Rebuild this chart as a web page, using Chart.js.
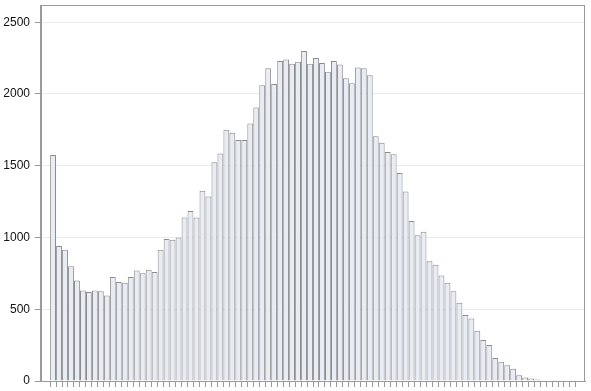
<!DOCTYPE html>
<html>
<head>
<meta charset="utf-8">
<script src="https://cdn.jsdelivr.net/npm/chart.js@4/dist/chart.umd.min.js"></script>
<style>
  html, body { margin: 0; padding: 0; background: #fff; }
  #wrap { width: 591px; height: 391px; }
</style>
</head>
<body>
<div id="wrap"><canvas id="histChart"></canvas></div>
<script>
// bin numbers (one bar each) and their counts
const bins = [
    1, 2, 3, 4, 5, 6, 7, 8, 9, 10, 11, 12, 13, 14, 15, 16, 17, 18, 19, 20, 21, 22,
    23, 24, 25, 26, 27, 28, 29, 30, 31, 32, 33, 34, 35, 36, 37, 38, 39, 40, 41, 42, 43, 44,
    45, 46, 47, 48, 49, 50, 51, 52, 53, 54, 55, 56, 57, 58, 59, 60, 61, 62, 63, 64, 65, 66,
    67, 68, 69, 70, 71, 72, 73, 74, 75, 76, 77, 78, 79, 80, 81, 82, 83, 84, 85, 86, 87, 88
];
const counts = [
    1575, 940, 915, 800, 700, 630, 620, 630, 625, 595, 725, 690, 685, 725, 770, 750, 775, 760, 915, 990, 985, 1000,
    1140, 1185, 1140, 1325, 1285, 1525, 1585, 1750, 1730, 1680, 1680, 1795, 1905, 2060, 2180, 2070, 2230, 2240, 2210, 2225,
    2300, 2210, 2250, 2215, 2155, 2230, 2205, 2110, 2075, 2185, 2180, 2130, 1705, 1660, 1595, 1580, 1450, 1320, 1115, 1015,
    1040, 835, 810, 735, 685, 625, 545, 460, 435, 350, 285, 250, 160, 135, 110, 85, 40, 25, 17, 10, 5, 3, 5, 2, 1, 1
];
const yTicks = [0, 500, 1000, 1500, 2000, 2500];

// frame round the plot area (top and right sides)
const frame = {
    id: 'frame',
    afterDraw(chart) {
        const a = chart.chartArea;
        const ctx = chart.ctx;
        ctx.save();
        ctx.strokeStyle = '#9a9a9a';
        ctx.lineWidth = 1;
        ctx.strokeRect(Math.round(a.left) - 0.5, Math.round(a.top) + 0.5, Math.round(a.right - a.left), Math.round(a.bottom - a.top));
        ctx.restore();
    }
};

new Chart(document.getElementById('histChart'), {
    type: 'bar',
    data: {
        datasets: [{
            data: counts.map((c, i) => ({ x: bins[i], y: c })),
            backgroundColor: '#e8ecf4',
            borderColor: '#8c8c8c',
            borderWidth: 1,
            categoryPercentage: 1.0,
            barPercentage: 0.98
        }]
    },
    options: {
        responsive: true,
        maintainAspectRatio: false,
        animation: false,
        layout: { padding: { top: 5, right: 6, left: 0, bottom: 0 } },
        plugins: { legend: { display: false }, tooltip: { enabled: false } },
        scales: {
            x: {
                type: 'linear',
                min: bins[0] - 1.5,
                max: bins[bins.length - 1] + 1.5,
                grid: { display: true, drawOnChartArea: false, drawTicks: true, tickLength: 6, tickColor: '#9a9a9a' },
                border: { color: '#9a9a9a' },
                ticks: { stepSize: 1, maxTicksLimit: 500, autoSkip: false, maxRotation: 0, callback: () => '' },
                afterBuildTicks: (scale) => {
                    scale.ticks = bins.map(b => ({ value: b }));
                },
                afterFit: (scale) => {
                    scale.height = 10;
                    scale.paddingLeft = 0;
                    scale.paddingRight = 0;
                }
            },
            y: {
                min: 0,
                max: 2620,
                grid: { color: '#ebebeb', tickColor: '#9a9a9a', tickLength: 6 },
                border: { color: '#9a9a9a' },
                ticks: {
                    stepSize: 500,
                    includeBounds: false,
                    padding: 5,
                    color: '#111',
                    font: { family: 'Liberation Sans, Arial, sans-serif', size: 12 },
                    callback: (v) => String(v)
                },
                afterBuildTicks: (scale) => {
                    scale.ticks = yTicks.map(v => ({ value: v }));
                },
                afterFit: (scale) => {
                    scale.width = 41;
                    scale.paddingTop = 0;
                    scale.paddingBottom = 0;
                }
            }
        }
    },
    plugins: [frame]
});
</script>
</body>
</html>
